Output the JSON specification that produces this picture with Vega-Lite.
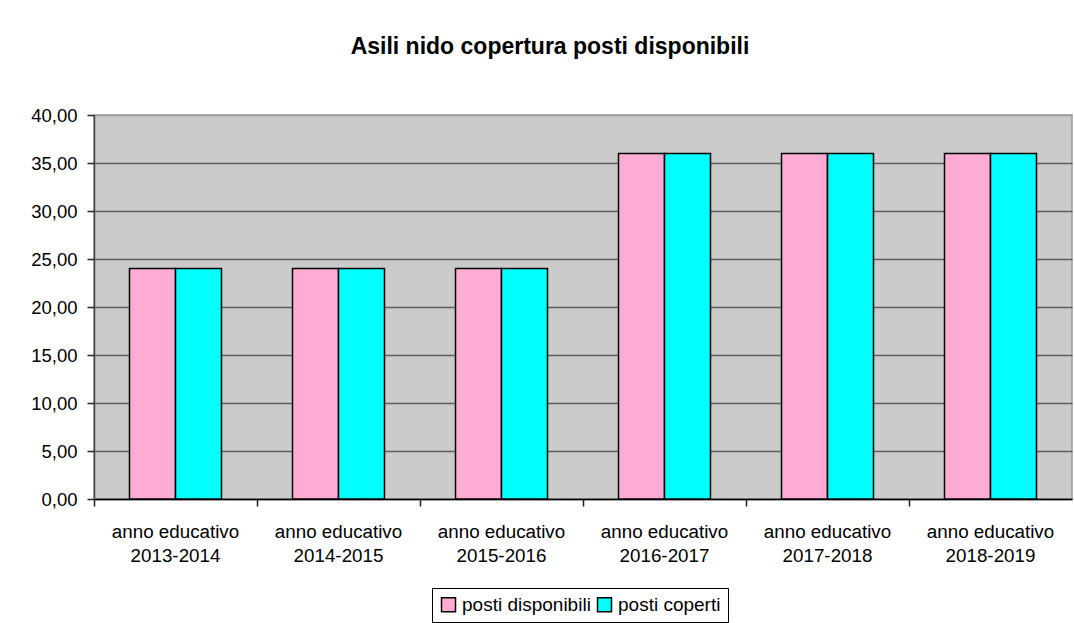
{
  "$schema": "https://vega.github.io/schema/vega-lite/v6.json",
  "autosize": {"type": "none"},
  "width": 978,
  "height": 384,
  "padding": {"left": 94, "top": 115, "right": 2, "bottom": 124},
  "background": "white",
  "title": {
    "text": "Asili nido copertura posti disponibili",
    "font": "Liberation Sans",
    "fontSize": 23,
    "fontWeight": "bold",
    "color": "black",
    "anchor": "middle",
    "frame": "group",
    "baseline": "alphabetic",
    "offset": 29,
    "dx": -33
  },
  "data": {
    "values": [
      {"anno": "anno educativo 2013-2014", "serie": "posti disponibili", "valore": 24},
      {"anno": "anno educativo 2013-2014", "serie": "posti coperti", "valore": 24},
      {"anno": "anno educativo 2014-2015", "serie": "posti disponibili", "valore": 24},
      {"anno": "anno educativo 2014-2015", "serie": "posti coperti", "valore": 24},
      {"anno": "anno educativo 2015-2016", "serie": "posti disponibili", "valore": 24},
      {"anno": "anno educativo 2015-2016", "serie": "posti coperti", "valore": 24},
      {"anno": "anno educativo 2016-2017", "serie": "posti disponibili", "valore": 36},
      {"anno": "anno educativo 2016-2017", "serie": "posti coperti", "valore": 36},
      {"anno": "anno educativo 2017-2018", "serie": "posti disponibili", "valore": 36},
      {"anno": "anno educativo 2017-2018", "serie": "posti coperti", "valore": 36},
      {"anno": "anno educativo 2018-2019", "serie": "posti disponibili", "valore": 36},
      {"anno": "anno educativo 2018-2019", "serie": "posti coperti", "valore": 36}
    ]
  },
  "mark": {"type": "bar", "stroke": "black", "strokeWidth": 1.5},
  "encoding": {
    "x": {
      "field": "anno",
      "type": "nominal",
      "sort": null,
      "scale": {"paddingInner": 0, "paddingOuter": 0},
      "axis": {
        "title": null,
        "labelAngle": 0,
        "bandPosition": 0,
        "labelExpr": "['anno educativo', substring(datum.label, 15)]",
        "labelFont": "Liberation Sans",
        "labelFontSize": 18.8,
        "labelColor": "black",
        "labelLineHeight": 24,
        "labelPadding": 16,
        "tickSize": 7,
        "tickColor": "#222",
        "domainColor": "black",
        "domainWidth": 1.5,
        "tickWidth": 1.5,
        "grid": false
      }
    },
    "xOffset": {
      "field": "serie",
      "type": "nominal",
      "sort": ["posti disponibili", "posti coperti"],
      "scale": {"paddingInner": 0, "paddingOuter": 0.772}
    },
    "y": {
      "field": "valore",
      "type": "quantitative",
      "scale": {"domain": [0, 40], "nice": false},
      "axis": {
        "title": null,
        "values": [0, 5, 10, 15, 20, 25, 30, 35, 40],
        "format": ".2f",
        "labelFont": "Liberation Sans",
        "labelFontSize": 18.5,
        "labelColor": "black",
        "labelPadding": 10,
        "tickSize": 7,
        "tickColor": "#222",
        "tickWidth": 1.5,
        "domainColor": "#444",
        "domainWidth": 1.5,
        "grid": true,
        "gridColor": {"condition": {"test": "datum.value == 40", "value": "#9a9a9a"}, "value": "#5e5e5e"},
        "gridWidth": 1.5
      }
    },
    "color": {
      "field": "serie",
      "type": "nominal",
      "sort": ["posti disponibili", "posti coperti"],
      "scale": {"domain": ["posti disponibili", "posti coperti"], "range": ["#ffacd5", "#00ffff"]},
      "legend": {
        "title": null,
        "orient": "none",
        "legendX": 338,
        "legendY": 473,
        "direction": "horizontal",
        "fillColor": "white",
        "strokeColor": "black",
        "padding": 7,
        "symbolType": "square",
        "symbolSize": 196,
        "symbolStrokeColor": "black",
        "symbolStrokeWidth": 1.5,
        "symbolOpacity": 1,
        "labelFont": "Liberation Sans",
        "labelFontSize": 19,
        "labelColor": "black",
        "labelOffset": 4,
        "columnPadding": 3
      }
    }
  },
  "config": {
    "locale": {"number": {"decimal": ",", "thousands": ".", "grouping": [3], "currency": ["", " €"]}},
    "view": {"fill": "#cbcbcb", "stroke": "#9a9a9a", "strokeWidth": 1.5}
  }
}
